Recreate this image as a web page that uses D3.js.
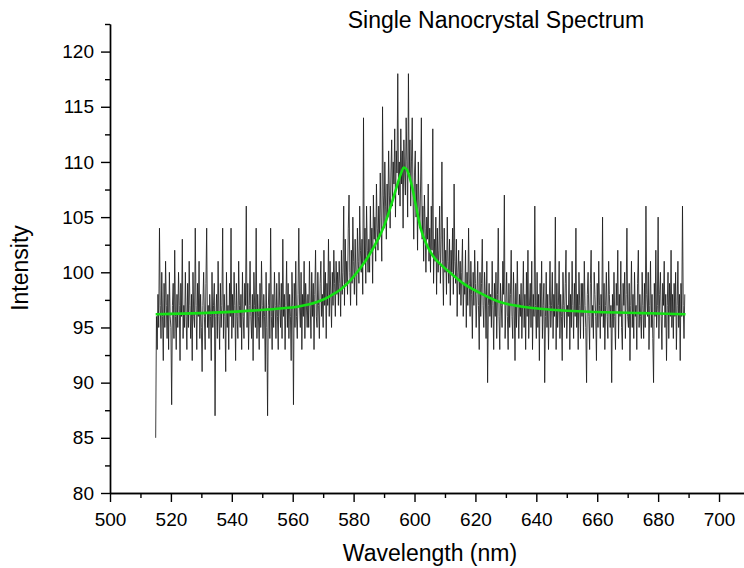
<!DOCTYPE html>
<html>
<head>
<meta charset="utf-8">
<script src="https://cdn.jsdelivr.net/npm/d3@7"></script>
<style>
  body { margin: 0; background: #fff; }
  svg { display: block; font-family: "Liberation Sans", Arial, sans-serif; }
  .axis path, .axis line { stroke: #000; stroke-width: 1.4; }
  .axis text { font-size: 19px; fill: #000; }
</style>
</head>
<body>
<div id="chart"></div>
<script>
// spectrum: 0.25 nm steps starting at 515 nm (one row = 10 nm)
const wlStart = 515;
const wlStep = 0.25;
const intensity = [
  85, 96, 93, 98, 95, 104, 97, 94, 100, 96, 92, 99, 95, 101, 97, 94, 98, 93, 100, 96, 95, 88, 97, 99, 94, 102, 96, 93, 98, 95, 100, 97, 92, 99, 96, 103, 94, 97, 95, 100,
  96, 93, 99, 95, 101, 97, 94, 98, 92, 100, 96, 95, 104, 97, 93, 99, 96, 101, 94, 98, 95, 91, 97, 100, 96, 93, 99, 104, 95, 97, 94, 98, 96, 92, 100, 95, 97, 99, 87, 96,
  98, 94, 101, 96, 93, 99, 95, 97, 104, 94, 98, 96, 91, 100, 95, 97, 93, 99, 96, 104, 94, 98, 95, 100, 97, 92, 99, 96, 94, 101, 97, 95, 98, 93, 100, 96, 94, 99, 97, 106,
  95, 99, 93, 97, 101, 96, 94, 98, 92, 100, 97, 95, 104, 94, 98, 96, 93, 99, 95, 101, 97, 94, 98, 96, 91, 100, 95, 87, 97, 99, 94, 104, 96, 93, 98, 95, 100, 97, 94, 99,
  96, 93, 100, 97, 95, 99, 94, 103, 96, 98, 93, 97, 101, 95, 99, 94, 98, 96, 92, 100, 97, 88, 99, 95, 101, 96, 94, 98, 104, 97, 95, 100, 93, 98, 96, 101, 94, 99, 97, 95,
  98, 95, 101, 97, 94, 100, 96, 99, 93, 98, 102, 96, 95, 100, 97, 94, 99, 101, 96, 98, 95, 102, 97, 100, 94, 99, 97, 103, 96, 101, 98, 95, 100, 97, 102, 99, 96, 101, 98, 100,
  97, 101, 99, 96, 102, 98, 100, 106, 97, 103, 99, 101, 98, 104, 107, 100, 97, 102, 99, 105, 101, 98, 103, 100, 97, 104, 101, 99, 106, 102, 100, 103, 98, 114, 101, 104, 99, 106, 102, 100,
  103, 100, 106, 102, 104, 99, 107, 103, 105, 101, 108, 104, 102, 106, 103, 109, 105, 101, 115, 107, 104, 110, 106, 103, 108, 105, 111, 107, 104, 109, 112, 106, 110, 108, 113, 105, 111, 109, 118, 107,
  110, 106, 113, 108, 111, 104, 112, 109, 107, 114, 110, 105, 118, 109, 112, 106, 110, 114, 107, 103, 109, 111, 105, 108, 102, 110, 106, 104, 108, 114, 103, 106, 101, 107, 104, 100, 105, 103, 108, 101,
  104, 100, 106, 102, 113, 99, 103, 101, 105, 98, 104, 100, 102, 106, 99, 103, 110, 101, 97, 104, 100, 102, 98, 105, 101, 99, 103, 97, 102, 100, 104, 98, 108, 101, 99, 103, 96, 100, 102, 98,
  101, 97, 100, 103, 96, 99, 98, 102, 95, 100, 97, 104, 99, 96, 101, 98, 94, 100, 97, 102, 99, 95, 98, 101, 97, 93, 100, 96, 99, 103, 97, 95, 100, 98, 94, 101, 90, 97, 99, 96,
  98, 95, 101, 97, 93, 99, 96, 100, 94, 98, 104, 96, 93, 99, 97, 95, 101, 98, 107, 94, 97, 100, 96, 93, 99, 95, 98, 102, 96, 94, 100, 97, 92, 99, 95, 101, 97, 94, 98, 96,
  99, 94, 97, 101, 95, 98, 93, 100, 96, 102, 94, 97, 99, 95, 101, 93, 98, 96, 106, 97, 94, 100, 95, 98, 92, 99, 96, 101, 94, 97, 99, 90, 96, 100, 95, 98, 93, 97, 101, 95,
  97, 100, 94, 98, 96, 105, 93, 99, 95, 97, 101, 94, 98, 96, 92, 100, 97, 95, 99, 102, 94, 97, 96, 100, 93, 98, 95, 101, 97, 94, 99, 96, 104, 95, 98, 93, 100, 97, 94, 99,
  96, 99, 94, 101, 97, 95, 90, 98, 100, 96, 93, 99, 102, 95, 97, 94, 100, 98, 96, 92, 99, 95, 101, 97, 94, 98, 96, 105, 95, 99, 93, 97, 100, 96, 94, 101, 98, 95, 97, 90,
  98, 95, 100, 96, 93, 99, 97, 102, 94, 98, 96, 101, 95, 93, 99, 97, 100, 94, 98, 104, 96, 95, 99, 92, 97, 101, 95, 98, 94, 100, 96, 97, 93, 99, 102, 95, 98, 96, 94, 100,
  97, 94, 99, 95, 106, 98, 96, 100, 93, 97, 101, 95, 98, 94, 90, 99, 96, 102, 95, 97, 105, 94, 98, 100, 96, 93, 99, 97, 101, 95, 98, 92, 97, 100, 94, 99, 96, 102, 95, 98,
  94, 99, 96, 100, 93, 97, 101, 95, 98, 92, 99, 96, 106, 97, 94, 98
];

// fitted peak (green)
const fitWl = [515, 530, 545, 555, 562, 568, 572, 576, 579, 582, 585, 588, 590, 592, 594, 595.5, 596.5,
  597.5, 599, 600.5, 602, 604, 606, 609, 612, 616, 621, 628, 635, 645, 660, 675, 689];
const fitVal = [96.2, 96.3, 96.5, 96.7, 96.9, 97.3, 97.8, 98.5, 99.3, 100.3, 101.5, 103.0, 104.2, 105.8, 107.6, 108.9, 109.5,
  109.3, 108.0, 106.0, 104.0, 102.5, 101.5, 100.6, 99.9, 99.0, 98.2, 97.3, 96.9, 96.6, 96.4, 96.3, 96.2];

const xTicks = [500, 520, 540, 560, 580, 600, 620, 640, 660, 680, 700];
const xMinor = [510, 530, 550, 570, 590, 610, 630, 650, 670, 690];
const yTicks = [80, 85, 90, 95, 100, 105, 110, 115, 120];
const yMinor = [82.5, 87.5, 92.5, 97.5, 102.5, 107.5, 112.5, 117.5, 122.5];

let margin = {top: 24, right: 0, bottom: 75, left: 110},
    width = 744 - margin.left - margin.right,
    height = 568 - margin.top - margin.bottom;

let svg = d3.select("#chart").append("svg")
    .attr("width", 744)
    .attr("height", 568);

let g = svg.append("g")
    .attr("transform", "translate(" + margin.left + "," + margin.top + ")");

let x = d3.scaleLinear()
    .domain([500, 708.2])
    .range([0, width]);

let y = d3.scaleLinear()
    .domain([80, 122.5])
    .range([height, 0]);

let spectrum = intensity.map((v, i) => [wlStart + i * wlStep, v]);
let fit = fitWl.map((w, i) => [w, fitVal[i]]);

let line = d3.line()
    .x(d => x(d[0]))
    .y(d => y(d[1]));

g.append("path")
    .datum(spectrum)
    .attr("fill", "none")
    .attr("stroke", "#1c1c1c")
    .attr("stroke-width", 0.85)
    .attr("d", line);

g.append("path")
    .datum(fit)
    .attr("fill", "none")
    .attr("stroke", "#14e014")
    .attr("stroke-width", 2.6)
    .attr("d", line.curve(d3.curveMonotoneX));

// axes
g.append("g")
    .attr("class", "axis")
    .attr("transform", "translate(0," + height + ")")
    .call(d3.axisBottom(x).tickValues(xTicks).tickSize(9).tickSizeOuter(0).tickPadding(11).tickFormat(d3.format("d")));

g.append("g")
    .attr("class", "axis")
    .attr("transform", "translate(0," + height + ")")
    .call(d3.axisBottom(x).tickValues(xMinor).tickSize(5).tickSizeOuter(0).tickFormat(""));

g.append("g")
    .attr("class", "axis")
    .call(d3.axisLeft(y).tickValues(yTicks).tickSize(9).tickSizeOuter(0).tickPadding(7).tickFormat(d3.format("d")));

g.append("g")
    .attr("class", "axis")
    .call(d3.axisLeft(y).tickValues(yMinor).tickSize(5).tickSizeOuter(0).tickFormat(""));

// titles
svg.append("text")
    .attr("x", 496)
    .attr("y", 28)
    .attr("text-anchor", "middle")
    .style("font-size", "23px")
    .text("Single Nanocrystal Spectrum");

svg.append("text")
    .attr("x", 430)
    .attr("y", 561)
    .attr("text-anchor", "middle")
    .style("font-size", "23px")
    .text("Wavelength (nm)");

svg.append("text")
    .attr("transform", "translate(28,268) rotate(-90)")
    .attr("text-anchor", "middle")
    .style("font-size", "23px")
    .text("Intensity");
</script>
</body>
</html>
